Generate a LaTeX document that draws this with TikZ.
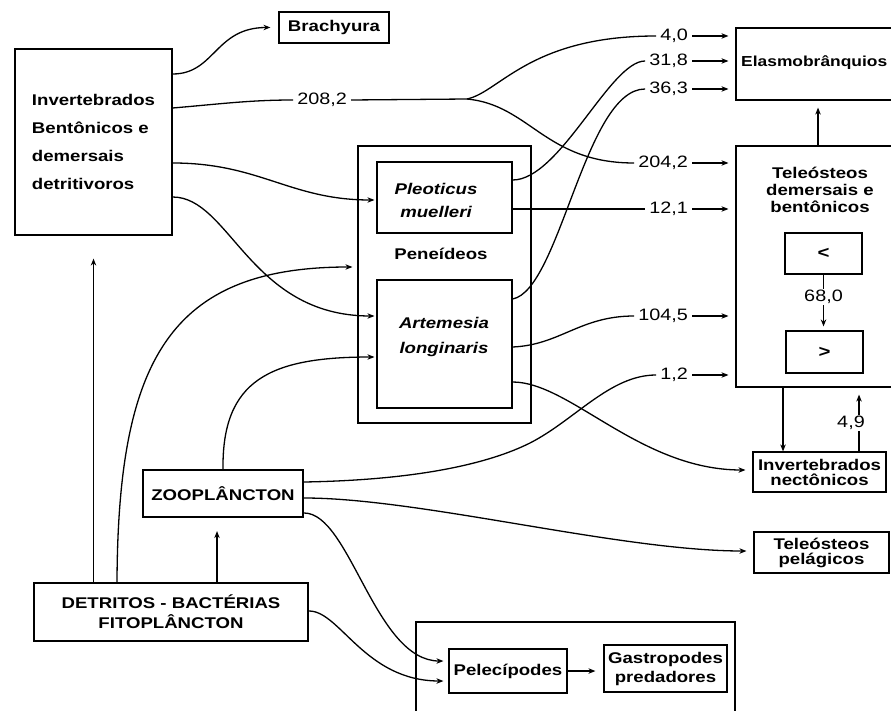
\documentclass[tikz,border=0pt]{standalone}
\usepackage{fontspec}
\setmainfont{Liberation Sans}[FakeStretch=1.2]
\usetikzlibrary{arrows.meta}
\newcommand\mylab[1]{\fontsize{15.5}{#1}\selectfont\bfseries}
\newcommand\mynum{\fontsize{16.5}{18}\selectfont}
\begin{document}
\begin{tikzpicture}[x=1pt,y=-1pt,
  bx/.style={draw, line width=1.2pt, inner sep=0pt, align=center, font=\mylab{17}},
  bxthick/.style={bx, line width=2.2pt},
  txt/.style={inner sep=0pt, align=center, font=\mylab{17}},
  num/.style={inner xsep=4pt, inner ysep=1pt, anchor=east, font=\mynum, fill=white},
  conn/.style={line width=1.3pt, -{Stealth[length=7pt,width=5.5pt]}},
  link/.style={line width=1.3pt}]
\fill[white] (0,0) rectangle (891,711);
\useasboundingbox (0,0) rectangle (891,711);

% boxes
\node[bx, minimum width=157pt, minimum height=186pt, align=left, font=\mylab{27.7}] (inv) at (93.5,142) {Invertebrados\\Bentônicos e\\demersais\\detritivoros};
\node[bx, minimum width=110pt, minimum height=31pt] (brach) at (334,27.5) {Brachyura};
\node[bx, minimum width=173pt, minimum height=277pt] (pen) at (444.5,284.5) {};
\node[bx, minimum width=135pt, minimum height=71pt] (pleo) at (444.5,197.5) {};
\node[txt, font={\mylab{23}\itshape}] (pleotxt) at (436,200) {Pleoticus\\muelleri};
\node[txt] (pentxt) at (441,254) {Peneídeos};
\node[bx, minimum width=135pt, minimum height=128pt] (art) at (444.5,344) {};
\node[txt, font={\mylab{25}\itshape}] (arttxt) at (444,337) {Artemesia\\longinaris};
\node[bx, minimum width=164pt, minimum height=72pt] (elas) at (818,64) {};
\node[txt, anchor=west, font=\fontsize{14.5}{17}\selectfont\bfseries] (elastxt) at (741,63) {Elasmobrânquios};
\node[bx, minimum width=164pt, minimum height=241pt] (tel) at (818,266.5) {};
\node[txt] (teltxt) at (820,190) {Teleósteos\\demersais e\\bentônicos};
\node[bx, minimum width=77pt, minimum height=41pt, font=\fontsize{17}{18}\selectfont\bfseries] (lt) at (823.5,253.5) {<};
\node[bx, minimum width=77pt, minimum height=42pt, font=\fontsize{17}{18}\selectfont\bfseries] (gt) at (824.5,352) {>};
\node[bx, minimum width=133pt, minimum height=40pt, font=\mylab{15}] (nect) at (819.5,472) {Invertebrados\\nectônicos};
\node[bx, minimum width=135pt, minimum height=41pt, font=\mylab{15}] (pelag) at (821.5,552.5) {Teleósteos\\pelágicos};
\node[bx, minimum width=319pt, minimum height=100pt] (biv) at (575.5,672) {};
\node[bx, minimum width=118pt, minimum height=44pt] (pele) at (508,671) {Pelecípodes};
\node[bx, minimum width=123pt, minimum height=47pt, font=\mylab{19}] (gast) at (665.5,668.5) {Gastropodes\\predadores};
\node[bxthick, minimum width=160pt, minimum height=47pt] (zoo) at (223,493.5) {ZOOPLÂNCTON};
\node[bxthick, minimum width=274pt, minimum height=58pt, font=\mylab{20}] (det) at (171,612) {DETRITOS - BACTÉRIAS\\FITOPLÂNCTON};

% number labels
\node[num] (n208) at (351,100) {208,2};
\node[num] (n40) at (692,36) {4,0};
\node[num] (n318) at (692,61) {31,8};
\node[num] (n363) at (692,89) {36,3};
\node[num] (n2042) at (692,163) {204,2};
\node[num] (n121) at (692,209) {12,1};
\node[num] (n1045) at (692,316) {104,5};
\node[num] (n12) at (692,375) {1,2};
\node[num, anchor=center, inner xsep=1pt] (n680) at (823.5,297) {68,0};
\node[num, anchor=center, inner xsep=1pt] (n49) at (851,423) {4,9};
\coordinate (sp) at (467,99);

% connectors
\draw[conn, shorten >=8pt] (inv.east |- 0,74) .. controls (215,74) and (215,27.5) .. (brach.west);
\draw[link] (inv.east |- 0,108) .. controls (220,104) and (250,100) .. (n208.west);
\draw[link] (n208.east) -- (sp);
\draw[link] (sp) .. controls (500,92) and (530,36) .. (n40.west);
\draw[link] (sp) .. controls (530,105) and (545,163) .. (n2042.west);
\draw[link] (pleo.east |- 0,180) .. controls (560,180) and (610,61) .. (n318.west);
\draw[link] (art.east |- 0,299) .. controls (560,290) and (585,89) .. (n363.west);
\draw[link] (pleo.east |- 0,209) -- (n121.west);
\draw[link] (art.east |- 0,347) .. controls (560,345) and (580,316) .. (n1045.west);
\draw[link] (zoo.east |- 0,482) .. controls (420,480) and (490,463) .. (530,443) .. controls (575,420) and (610,375) .. (n12.west);
\draw[conn, shorten >=7pt] (art.east |- 0,382) .. controls (570,382) and (640,470) .. (nect.west |- 0,470);
\draw[conn, shorten >=7pt] (zoo.east |- 0,498) .. controls (420,498) and (620,551) .. (pelag.west |- 0,551);
\draw[conn, shorten >=5pt] (zoo.east |- 0,513) .. controls (350,513) and (375,661) .. (pele.west |- 0,661);
\draw[conn, shorten >=5pt] (det.east |- 0,611) .. controls (340,611) and (365,681) .. (pele.west |- 0,681);
\draw[conn, shorten >=13pt] (det.north -| 217,0) -- (zoo.south -| 217,0);
\draw[conn, shorten >=23pt] (det.north -| inv.south) -- (inv.south);
\draw[conn, shorten >=5pt] (det.north -| 117,0) .. controls (118,360) and (170,267) .. (pen.west |- 0,267);
\draw[conn, shorten >=2pt] (zoo.north) .. controls (222,380) and (270,357) .. (art.west |- 0,357);
\draw[conn, shorten >=2pt] (inv.east |- 0,163) .. controls (260,163) and (290,200) .. (pleo.west |- 0,200);
\draw[conn, shorten >=2pt] (inv.east |- 0,197) .. controls (230,197) and (250,316) .. (art.west |- 0,316);
\draw[conn, shorten >=7pt] (tel.north -| elas.south) -- (elas.south);
\draw[link] (lt.south) -- (n680.north);
\draw[conn, shorten >=4pt] (n680.south) -- (gt.north -| n680.south);
\draw[conn] (tel.south -| 783,0) -- (nect.north -| 783,0);
\draw[link] (nect.north -| 859,0) -- (n49.south -| 859,0);
\draw[conn, shorten >=7pt] (n49.north -| 859,0) -- (tel.south -| 859,0);
\draw[conn, shorten >=8pt] (pele.east) -- (gast.west |- pele.east);
\foreach \n/\b in {n40/elas, n318/elas, n363/elas, n2042/tel, n121/tel, n1045/tel, n12/tel}
  \draw[conn, shorten >=7pt] (\n.east) -- (\n.east -| \b.west);
\end{tikzpicture}
\end{document}
